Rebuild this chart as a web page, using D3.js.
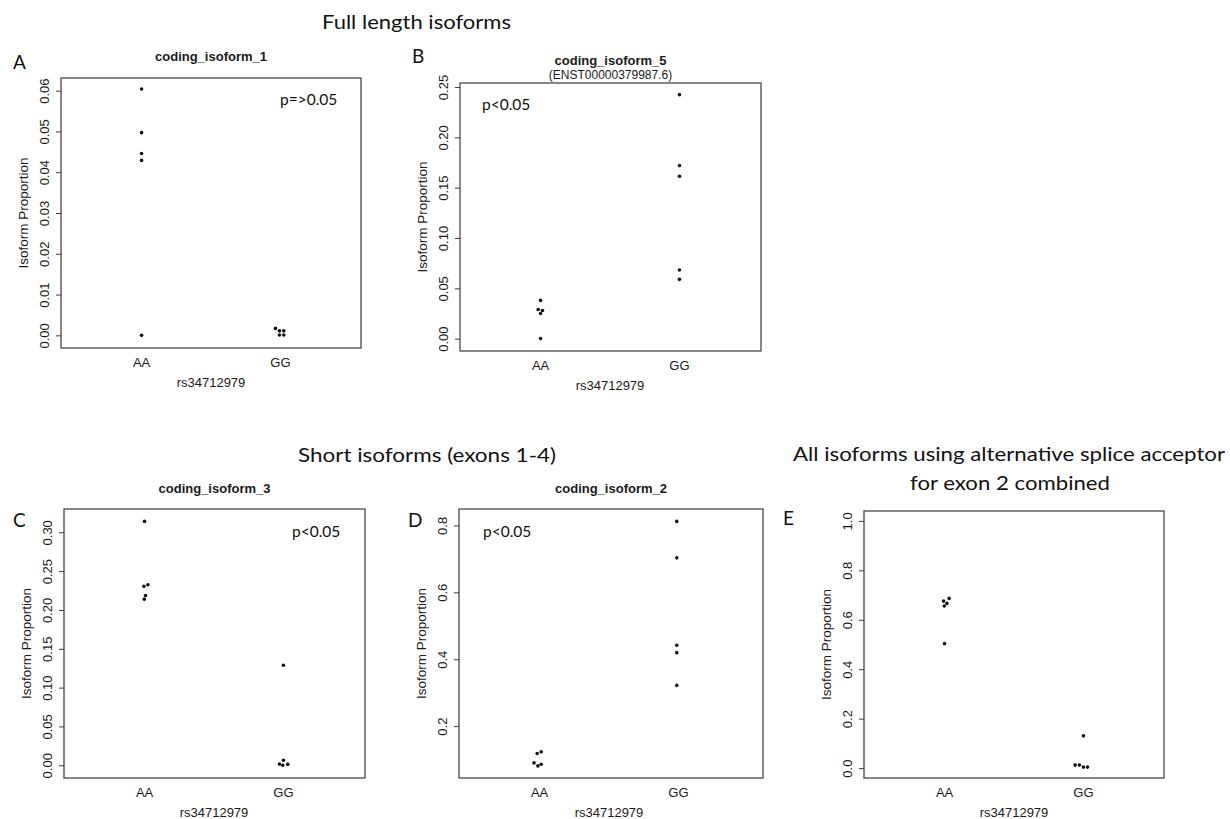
<!DOCTYPE html>
<html>
<head>
<meta charset="utf-8">
<script src="https://cdn.jsdelivr.net/npm/d3@7"></script>
<style>
  body { margin: 0; background: #fff; }
  svg { display: block; }
  .heading, .letter, .pval { font-family: Lato, "Open Sans", sans-serif; fill: #111; }
  .rtext { font-family: "Liberation Sans", Arial, sans-serif; fill: #1a1a1a; }
  .box { fill: none; stroke: #3a3a3a; stroke-width: 1.2; }
  .yaxis line { stroke: #3a3a3a; stroke-width: 1; }
  .yaxis path { display: none; }
</style>
</head>
<body>
<div class="content"></div>
<script>
// values
var panelIds = ['A', 'B', 'C', 'D', 'E'];
var panelTitles = ['coding_isoform_1', 'coding_isoform_5', 'coding_isoform_3', 'coding_isoform_2', ''];
var panelSubtitles = ['', '(ENST00000379987.6)', '', '', ''];
var pLabels = ['p=>0.05', 'p<0.05', 'p<0.05', 'p<0.05', ''];
var genotypes = ['AA', 'GG'];
var xLabel = 'rs34712979';
var yLabel = 'Isoform Proportion';

var aaValues = [
    [0.0604, 0.0497, 0.0446, 0.0429, 0.0],
    [0.038, 0.029, 0.028, 0.025, 0.0],
    [0.314, 0.2325, 0.2304, 0.2186, 0.2139],
    [0.1231, 0.1181, 0.0902, 0.0862, 0.0812],
    [0.6864, 0.6756, 0.6662, 0.6555, 0.5034]
];
var ggValues = [
    [0.0017, 0.0011, 0.0011, 0.0001, 0.0001],
    [0.2424, 0.1719, 0.1613, 0.0682, 0.0589],
    [0.1287, 0.0065, 0.0015, 0.0012, 0.0],
    [0.812, 0.703, 0.4416, 0.4196, 0.3218],
    [0.1305, 0.0121, 0.0121, 0.004, 0.004]
];
// horizontal jitter of each point, in category units
var aaJitter = [
    [0, 0, 0, 0, 0],
    [0, -0.017, 0.014, 0, 0],
    [0, 0.024, -0.005, 0.007, -0.002],
    [0.012, -0.017, -0.04, 0.012, -0.012],
    [0.033, -0.007, 0.017, -0.002, 0]
];
var ggJitter = [
    [-0.036, -0.007, 0.024, -0.007, 0.024],
    [0, 0, 0, 0, 0],
    [0, 0, -0.029, 0.031, -0.005],
    [-0.012, -0.012, -0.012, -0.012, -0.012],
    [0, -0.06, -0.029, 0, 0.029]
];
var yDomains = [
    [-0.0031, 0.0631],
    [-0.0123, 0.254],
    [-0.0164, 0.330],
    [0.045, 0.849],
    [-0.04, 1.04]
];
var yTickLabels = [
    ['0.00', '0.01', '0.02', '0.03', '0.04', '0.05', '0.06'],
    ['0.00', '0.05', '0.10', '0.15', '0.20', '0.25'],
    ['0.00', '0.05', '0.10', '0.15', '0.20', '0.25', '0.30'],
    ['0.2', '0.4', '0.6', '0.8'],
    ['0.0', '0.2', '0.4', '0.6', '0.8', '1.0']
];

// page size
var w = 1230,
    h = 819;

var svg = d3.select('.content').append('svg')
    .attr('width', w)
    .attr('height', h);

// plot boxes and where the panel letters / p labels sit
var layout = [
    { x: 61,  y: 78,  w: 300, h: 270, lx: 13,  ly: 69,  px: 280, py: 105, titleDy: -17 },
    { x: 460, y: 83,  w: 301, h: 268, lx: 412, ly: 63,  px: 482, py: 110, titleDy: -18 },
    { x: 64,  y: 509, w: 301, h: 269, lx: 13,  ly: 527, px: 292, py: 537, titleDy: -16 },
    { x: 459, y: 509, w: 304, h: 269, lx: 408, ly: 527, px: 483, py: 537, titleDy: -16 },
    { x: 864, y: 511, w: 300, h: 267, lx: 783, ly: 525, px: 0,   py: 0,   titleDy: -16 }
];

// section headings
var headings = [
    { text: 'Full length isoforms', x: 322, y: 29, len: 189 },
    { text: 'Short isoforms (exons 1-4)', x: 298, y: 462, len: 258 },
    { text: 'All isoforms using alternative splice acceptor', x: 793, y: 461, len: 432 },
    { text: 'for exon 2 combined', x: 910, y: 490, len: 200 }
];

svg.selectAll('text.heading')
    .data(headings)
    .enter()
    .append('text')
    .attr('class', 'heading')
    .attr('x', function(d) { return d.x; })
    .attr('y', function(d) { return d.y; })
    .attr('textLength', function(d) { return d.len; })
    .attr('lengthAdjust', 'spacingAndGlyphs')
    .style('font-size', '20px')
    .text(function(d) { return d.text; });

panelIds.forEach(function(id, i) {
    var L = layout[i];

    var x = d3.scaleLinear()
        .domain([0.42, 2.58])
        .range([0, 300]);

    var y = d3.scaleLinear()
        .domain(yDomains[i])
        .range([L.h, 0]);

    // panel letter
    svg.append('text')
        .attr('class', 'letter')
        .attr('x', L.lx)
        .attr('y', L.ly)
        .style('font-size', '19px')
        .text(id);

    var g = svg.append('g')
        .attr('transform', 'translate(' + L.x + ',' + L.y + ')');

    // title
    if (panelTitles[i]) {
        g.append('text')
            .attr('class', 'rtext')
            .attr('x', L.w / 2)
            .attr('y', L.titleDy)
            .attr('text-anchor', 'middle')
            .style('font-size', '13px')
            .style('font-weight', 'bold')
            .text(panelTitles[i]);
    }
    if (panelSubtitles[i]) {
        g.append('text')
            .attr('class', 'rtext')
            .attr('x', L.w / 2)
            .attr('y', -4)
            .attr('text-anchor', 'middle')
            .style('font-size', '12px')
            .text(panelSubtitles[i]);
    }

    // y axis with rotated labels like base R
    var ticks = yTickLabels[i].map(function(s) { return +s; });
    var axis = g.append('g')
        .attr('class', 'yaxis')
        .call(d3.axisLeft(y)
            .tickValues(ticks)
            .tickSize(5)
            .tickSizeOuter(0)
            .tickFormat(function(d, k) { return yTickLabels[i][k]; }));
    axis.selectAll('text')
        .attr('class', 'rtext')
        .attr('transform', 'rotate(-90)')
        .attr('x', 0)
        .attr('y', -12)
        .attr('dy', null)
        .attr('text-anchor', 'middle')
        .style('font-size', '13px')
        .style('font-family', '"Liberation Sans", Arial, sans-serif')
        .attr('fill', '#1a1a1a');

    // box
    g.append('rect')
        .attr('class', 'box')
        .attr('width', L.w)
        .attr('height', L.h);

    // category labels
    g.selectAll('text.cat')
        .data(genotypes)
        .enter()
        .append('text')
        .attr('class', 'rtext cat')
        .attr('x', function(d, k) { return x(k + 1); })
        .attr('y', L.h + 19)
        .attr('text-anchor', 'middle')
        .style('font-size', '13px')
        .text(function(d) { return d; });

    g.append('text')
        .attr('class', 'rtext')
        .attr('x', x(1.5))
        .attr('y', L.h + 39)
        .attr('text-anchor', 'middle')
        .style('font-size', '13px')
        .text(xLabel);

    g.append('text')
        .attr('class', 'rtext')
        .attr('transform', 'translate(-33,' + (L.h / 2) + ') rotate(-90)')
        .attr('text-anchor', 'middle')
        .style('font-size', '13.5px')
        .text(yLabel);

    // points
    var pts = [];
    aaValues[i].forEach(function(v, k) { pts.push({ g: 1, v: v, j: aaJitter[i][k] }); });
    ggValues[i].forEach(function(v, k) { pts.push({ g: 2, v: v, j: ggJitter[i][k] }); });

    g.selectAll('circle')
        .data(pts)
        .enter()
        .append('circle')
        .attr('cx', function(d) { return x(d.g + d.j); })
        .attr('cy', function(d) { return y(d.v); })
        .attr('r', 1.8)
        .style('fill', '#111');

    // p value note
    if (pLabels[i]) {
        svg.append('text')
            .attr('class', 'pval')
            .attr('x', L.px)
            .attr('y', L.py)
            .style('font-size', '15.5px')
            .text(pLabels[i]);
    }
});
</script>
</body>
</html>
